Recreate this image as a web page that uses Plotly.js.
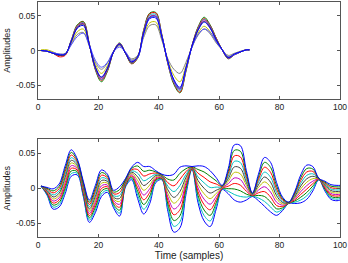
<!DOCTYPE html>
<html><head><meta charset="utf-8">
<script src="https://cdn.plot.ly/plotly-3.0.1.min.js"></script>
<style>html,body{margin:0;padding:0;background:#fff}#chart{width:348px;height:263px}</style>
</head><body><div id="chart"></div>
<script>
// ---- data ----
const xTicks = [0, 20, 40, 60, 80, 100];
const yTickVals = [-0.05, 0, 0.05];
const yTickText = ['-0.05', '0', '0.05'];

const topX = [1,3,5,7,9,11,13,15,17,19,21,23,25,27,29,31,33,35,37,39,41,43,45,47,49,51,53,55,57,59,61,63,65,67,69,70];
const topYellow = [0.001,0.001,-0.002,-0.006,-0.005,0.011,0.027,0.031,0.007,-0.020,-0.033,-0.022,-0.002,0.008,-0.003,-0.014,-0.008,0.022,0.040,0.041,0.017,-0.014,-0.036,-0.045,-0.022,0.005,0.025,0.035,0.027,0.013,0.001,-0.009,-0.005,-0.002,0.001,0.001];
const topGray = [0.000,-0.001,-0.003,-0.005,-0.004,0.009,0.023,0.026,0.006,-0.017,-0.027,-0.018,-0.001,0.007,-0.003,-0.012,-0.007,0.019,0.036,0.037,0.015,-0.012,-0.027,-0.033,-0.017,0.005,0.022,0.031,0.024,0.011,0.001,-0.007,-0.004,-0.001,0.001,0.001];
const topGreen = [0.000,-0.001,-0.004,-0.007,-0.006,0.015,0.037,0.042,0.010,-0.028,-0.045,-0.030,-0.002,0.011,-0.004,-0.019,-0.011,0.030,0.054,0.055,0.023,-0.019,-0.049,-0.061,-0.030,0.007,0.034,0.048,0.037,0.018,0.001,-0.012,-0.006,-0.002,0.001,0.001];
const topRed = [0.000,-0.001,-0.004,-0.009,-0.007,0.014,0.036,0.041,0.009,-0.027,-0.043,-0.029,-0.002,0.010,-0.004,-0.019,-0.010,0.029,0.053,0.054,0.023,-0.019,-0.047,-0.060,-0.029,0.007,0.033,0.046,0.036,0.018,0.001,-0.011,-0.006,-0.002,0.001,0.001];
const topCyan = [0.000,-0.001,-0.004,-0.007,-0.006,0.014,0.035,0.040,0.009,-0.026,-0.042,-0.028,-0.002,0.010,-0.004,-0.018,-0.010,0.028,0.051,0.052,0.022,-0.018,-0.046,-0.058,-0.028,0.007,0.032,0.045,0.035,0.017,0.001,-0.011,-0.006,-0.002,0.001,0.001];
const topMagenta = [0.000,-0.001,-0.004,-0.007,-0.006,0.014,0.034,0.039,0.009,-0.025,-0.041,-0.027,-0.002,0.010,-0.004,-0.017,-0.010,0.027,0.049,0.050,0.021,-0.017,-0.045,-0.056,-0.027,0.007,0.031,0.044,0.034,0.016,0.001,-0.011,-0.006,-0.002,0.001,0.001];
const topBlack = [0.000,-0.001,-0.004,-0.007,-0.006,0.013,0.033,0.038,0.008,-0.024,-0.039,-0.026,-0.002,0.009,-0.004,-0.017,-0.009,0.026,0.048,0.049,0.021,-0.017,-0.043,-0.055,-0.026,0.007,0.030,0.042,0.033,0.016,0.001,-0.010,-0.006,-0.002,0.001,0.001];
const topBlueLow = [0.000,-0.001,-0.003,-0.005,-0.005,0.008,0.020,0.025,0.008,-0.014,-0.024,-0.017,-0.002,0.005,-0.002,-0.014,-0.010,0.024,0.047,0.049,0.021,-0.017,-0.044,-0.055,-0.027,0.005,0.023,0.031,0.026,0.013,0.001,-0.009,-0.006,-0.002,0.001,0.001];
const topBlue = [0.000,-0.001,-0.004,-0.006,-0.005,0.013,0.032,0.036,0.008,-0.024,-0.038,-0.025,-0.002,0.009,-0.004,-0.016,-0.009,0.025,0.046,0.047,0.020,-0.016,-0.042,-0.053,-0.025,0.006,0.029,0.041,0.032,0.015,0.001,-0.010,-0.005,-0.002,0.001,0.001];

const botX = [1,3,5,7,9,11,13,15,17,19,21,23,25,27,29,31,33,35,37,39,41,43,45,47,49,51,53,55,57,59,61,63,65,67,69,71,73,75,77,79,81,83,85,87,89,91,93,95,97,99,100];
const bot0 = [0.003,-0.010,-0.030,-0.027,-0.008,0.017,0.019,-0.012,-0.049,-0.035,-0.012,-0.006,-0.028,-0.040,0.002,0.012,-0.015,-0.037,-0.022,0.008,0.012,-0.033,-0.063,-0.057,-0.009,0.027,-0.021,-0.047,-0.055,-0.030,-0.002,-0.008,-0.017,-0.020,-0.017,-0.012,-0.018,-0.026,-0.034,-0.039,-0.032,-0.022,-0.022,-0.021,-0.016,-0.004,0.012,-0.004,-0.016,-0.018,-0.017];
const bot1 = [0.003,-0.0089,-0.0271,-0.0237,-0.004,0.0208,0.0213,-0.0098,-0.0458,-0.0311,-0.0082,-0.0034,-0.0255,-0.0358,0.0032,0.0138,-0.0098,-0.0302,-0.0167,0.0097,0.0128,-0.0279,-0.0547,-0.0483,-0.0049,0.0274,-0.0157,-0.0392,-0.047,-0.0255,-0.0014,-0.0044,-0.0091,-0.0119,-0.0128,-0.0115,-0.0142,-0.019,-0.0269,-0.0343,-0.0301,-0.0218,-0.0203,-0.017,-0.0111,-0.0005,0.0122,-0.0026,-0.0139,-0.0158,-0.0149];
const bot2 = [0.003,-0.0078,-0.0242,-0.0204,0.000,0.0246,0.0236,-0.0076,-0.0426,-0.0272,-0.0044,-0.0008,-0.023,-0.0316,0.0044,0.0156,-0.0046,-0.0234,-0.0114,0.0114,0.0136,-0.0228,-0.0464,-0.0396,-0.0008,0.0278,-0.0104,-0.0314,-0.039,-0.021,-0.0008,-0.0008,-0.0012,-0.0038,-0.0086,-0.011,-0.0104,-0.012,-0.0198,-0.0296,-0.0282,-0.0216,-0.0186,-0.013,-0.0062,0.003,0.0124,-0.0012,-0.0118,-0.0136,-0.0128];
const bot3 = [0.003,-0.0067,-0.0213,-0.0171,0.004,0.0284,0.0259,-0.0054,-0.0394,-0.0233,-0.0006,0.0018,-0.0205,-0.0274,0.0056,0.0174,0.0006,-0.0166,-0.0061,0.0131,0.0144,-0.0177,-0.0381,-0.0309,0.0033,0.0282,-0.0051,-0.0236,-0.031,-0.0165,-0.0002,0.0028,0.0067,0.0043,-0.0044,-0.0105,-0.0066,-0.005,-0.0127,-0.0249,-0.0263,-0.0214,-0.0169,-0.009,-0.0013,0.0065,0.0126,0.0002,-0.0097,-0.0114,-0.0107];
const bot4 = [0.003,-0.0056,-0.0184,-0.0138,0.008,0.0322,0.0282,-0.0032,-0.0362,-0.0194,0.0032,0.0044,-0.018,-0.0232,0.0068,0.0192,0.0058,-0.0098,-0.0008,0.0148,0.0152,-0.0126,-0.0298,-0.0222,0.0074,0.0286,0.0002,-0.0158,-0.023,-0.012,0.0004,0.0064,0.0146,0.0124,-0.0002,-0.01,-0.0028,0.002,-0.0056,-0.0202,-0.0244,-0.0212,-0.0152,-0.005,0.0036,0.01,0.0128,0.0016,-0.0076,-0.0092,-0.0086];
const bot5 = [0.003,-0.0045,-0.0155,-0.0105,0.012,0.036,0.0305,-0.001,-0.033,-0.0155,0.007,0.007,-0.0155,-0.019,0.008,0.021,0.011,-0.003,0.0045,0.0165,0.016,-0.0075,-0.0215,-0.0135,0.0115,0.029,0.0055,-0.008,-0.015,-0.0075,0.001,0.01,0.0225,0.0205,0.004,-0.0095,0.001,0.009,0.0015,-0.0155,-0.0225,-0.021,-0.0135,-0.001,0.0085,0.0135,0.013,0.003,-0.0055,-0.007,-0.0065];
const bot6 = [0.003,-0.0034,-0.0126,-0.0072,0.016,0.0398,0.0328,0.0012,-0.0298,-0.0116,0.0108,0.0096,-0.013,-0.0148,0.0092,0.0228,0.0162,0.0038,0.0098,0.0182,0.0168,-0.0024,-0.0132,-0.0048,0.0156,0.0294,0.0108,-0.0002,-0.007,-0.003,0.0016,0.0136,0.0304,0.0286,0.0082,-0.009,0.0048,0.016,0.0086,-0.0108,-0.0206,-0.0208,-0.0118,0.003,0.0134,0.017,0.0132,0.0044,-0.0034,-0.0048,-0.0044];
const bot7 = [0.003,-0.0023,-0.0097,-0.0039,0.020,0.0436,0.0351,0.0034,-0.0266,-0.0077,0.0146,0.0122,-0.0105,-0.0106,0.0104,0.0246,0.0214,0.0106,0.0151,0.0199,0.0176,0.0027,-0.0049,0.0039,0.0197,0.0298,0.0161,0.0076,0.001,0.0015,0.0022,0.0172,0.0383,0.0367,0.0124,-0.0085,0.0086,0.023,0.0157,-0.0061,-0.0187,-0.0206,-0.0101,0.007,0.0183,0.0205,0.0134,0.0058,-0.0013,-0.0026,-0.0023];
const bot8 = [0.003,-0.0012,-0.0068,-0.0006,0.024,0.0474,0.0374,0.0056,-0.0234,-0.0038,0.0184,0.0148,-0.008,-0.0064,0.0116,0.0264,0.0266,0.0174,0.0204,0.0216,0.0184,0.0078,0.0034,0.0126,0.0238,0.0302,0.0214,0.0154,0.009,0.006,0.0028,0.0208,0.0462,0.0448,0.0166,-0.008,0.0124,0.030,0.0228,-0.0014,-0.0168,-0.0204,-0.0084,0.011,0.0232,0.024,0.0136,0.0072,0.0008,-0.0004,-0.0002];
const bot9 = [0.003,-0.0001,-0.0039,0.0027,0.028,0.0512,0.0397,0.0078,-0.0202,0.0001,0.0222,0.0174,-0.0055,-0.0022,0.0128,0.0282,0.0318,0.0242,0.0257,0.0233,0.0192,0.0129,0.0117,0.0213,0.0279,0.0306,0.0267,0.0232,0.017,0.0105,0.0034,0.0244,0.0541,0.0529,0.0208,-0.0075,0.0162,0.037,0.0299,0.0033,-0.0149,-0.0202,-0.0067,0.015,0.0281,0.0275,0.0138,0.0086,0.0029,0.0018,0.0019];
const bot10 = [0.003,0.001,-0.001,0.006,0.032,0.055,0.042,0.010,-0.017,0.004,0.026,0.020,-0.003,0.002,0.014,0.030,0.037,0.031,0.031,0.025,0.020,0.018,0.020,0.030,0.032,0.031,0.032,0.031,0.025,0.015,0.004,0.028,0.062,0.061,0.025,-0.007,0.020,0.044,0.037,0.008,-0.013,-0.020,-0.005,0.019,0.033,0.031,0.014,0.010,0.005,0.004,0.004];

// ---- styles ----
const B='#0000ff', G='#008000', R='#ff0000', C='#00bfbf', M='#bf00bf', Y='#bfbf00', K='#404040';
const topSeries = [
  [topYellow, Y], [topGray, '#808080'], [topGreen, G], [topRed, R], [topCyan, C],
  [topMagenta, M], [topBlack, K], [topBlueLow, '#5555ff'], [topBlue, B]
];
const botSeries = [
  [bot0, B], [bot1, C], [bot2, G], [bot3, R], [bot4, M], [bot5, Y],
  [bot6, K], [bot7, C], [bot8, R], [bot9, G], [bot10, B]
];

const traces = [];
topSeries.forEach(([ys, col]) => traces.push({
  x: topX, y: ys, type: 'scatter', mode: 'lines', xaxis: 'x', yaxis: 'y',
  line: {color: col, width: 1, shape: 'spline', smoothing: 1}, hoverinfo: 'skip'
}));
botSeries.forEach(([ys, col]) => traces.push({
  x: botX, y: ys, type: 'scatter', mode: 'lines', xaxis: 'x2', yaxis: 'y2',
  line: {color: col, width: 1, shape: 'spline', smoothing: 1}, hoverinfo: 'skip'
}));

const font = {family: 'Liberation Sans, Arial, sans-serif', size: 8.5, color: '#222'};
const axCommon = {
  showline: true, linecolor: '#555', linewidth: 1, mirror: 'ticks',
  ticks: 'inside', ticklen: 3, tickcolor: '#555', tickwidth: 1,
  showgrid: false, zeroline: false, tickfont: font, fixedrange: true
};
const layout = {
  width: 348, height: 263,
  margin: {l: 38, r: 8, t: 2, b: 26},
  paper_bgcolor: '#fff', plot_bgcolor: '#fff', showlegend: false,
  font: font,
  xaxis: Object.assign({}, axCommon, {domain: [0, 1], range: [0, 100], anchor: 'y',
    tickmode: 'array', tickvals: xTicks, ticktext: xTicks.map(String)}),
  yaxis: Object.assign({}, axCommon, {domain: [0.587, 1], range: [-0.07, 0.07], anchor: 'x',
    tickmode: 'array', tickvals: yTickVals, ticktext: yTickText,
    title: {text: 'Amplitudes', font: {family: font.family, size: 9, color: '#222'}, standoff: 3}}),
  xaxis2: Object.assign({}, axCommon, {domain: [0, 1], range: [0, 100], anchor: 'y2',
    tickmode: 'array', tickvals: xTicks, ticktext: xTicks.map(String),
    title: {text: 'Time (samples)', font: {family: font.family, size: 10, color: '#222'}, standoff: 2}}),
  yaxis2: Object.assign({}, axCommon, {domain: [0, 0.4157], range: [-0.07, 0.07], anchor: 'x2',
    tickmode: 'array', tickvals: yTickVals, ticktext: yTickText,
    title: {text: 'Amplitudes', font: {family: font.family, size: 9, color: '#222'}, standoff: 3}})
};
Plotly.newPlot('chart', traces, layout, {staticPlot: true, displayModeBar: false});
</script></body></html>
